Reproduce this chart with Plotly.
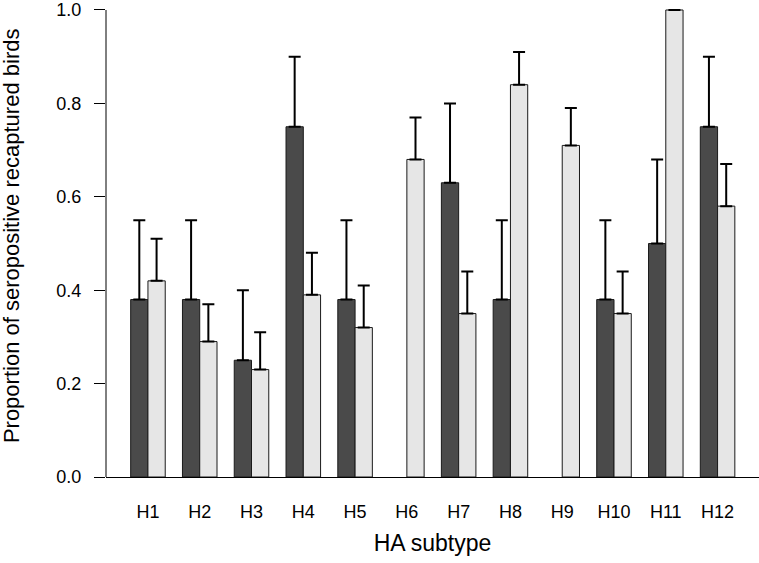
import plotly.graph_objects as go

subtypes = ["H1", "H2", "H3", "H4", "H5", "H6", "H7", "H8", "H9", "H10", "H11", "H12"]
dark_vals = [0.38, 0.38, 0.25, 0.75, 0.38, None, 0.63, 0.38, None, 0.38, 0.50, 0.75]
dark_upper = [0.55, 0.55, 0.40, 0.90, 0.55, None, 0.80, 0.55, None, 0.55, 0.68, 0.90]
light_vals = [0.42, 0.29, 0.23, 0.39, 0.32, 0.68, 0.35, 0.84, 0.71, 0.35, 1.00, 0.58]
light_upper = [0.51, 0.37, 0.31, 0.48, 0.41, 0.77, 0.44, 0.91, 0.79, 0.44, 1.00, 0.67]
y_ticks = [0, 0.2, 0.4, 0.6, 0.8, 1.0]


def err_up(vals, upper):
    return [None if v is None else u - v for v, u in zip(vals, upper)]


def zeros(vals):
    return [0 if v is not None else None for v in vals]


fig = go.Figure()
fig.add_trace(go.Bar(
    x=subtypes, y=dark_vals,
    marker=dict(color="#4a4a4a", line=dict(color="#1a1a1a", width=1)),
    error_y=dict(type="data", symmetric=False, array=err_up(dark_vals, dark_upper),
                 arrayminus=zeros(dark_vals), color="black", thickness=2, width=6),
    cliponaxis=False, showlegend=False,
))
fig.add_trace(go.Bar(
    x=subtypes, y=light_vals,
    marker=dict(color="#e6e6e6", line=dict(color="#1a1a1a", width=1)),
    error_y=dict(type="data", symmetric=False, array=err_up(light_vals, light_upper),
                 arrayminus=zeros(light_vals), color="black", thickness=2, width=6),
    cliponaxis=False, showlegend=False,
))

# y axis line only spans 0..1 like the R axis
fig.add_shape(type="line", xref="paper", yref="y", x0=0, x1=0, y0=0, y1=1.0,
              line=dict(color="black", width=1))

fig.add_annotation(
    text="Proportion of seropositive recaptured birds", textangle=-90,
    xref="paper", yref="paper", x=0, y=0.505, xshift=-95,
    xanchor="center", yanchor="middle", showarrow=False,
    font=dict(size=22),
)

font = "Liberation Sans, Arial, sans-serif"
fig.update_layout(
    width=759, height=563,
    margin=dict(l=106, r=0, t=0, b=86, autoexpand=False),
    paper_bgcolor="white", plot_bgcolor="white",
    barmode="group", bargap=0.333, bargroupgap=0,
    font=dict(family=font, color="black", size=18),
    xaxis=dict(
        range=[-0.81, 11.8], showgrid=False, zeroline=False,
        showline=True, linecolor="black", linewidth=1,
        ticks="", ticklabelstandoff=18, tickfont=dict(size=18),
        title=dict(text="HA subtype", font=dict(size=23), standoff=14),
    ),
    yaxis=dict(
        range=[0, 1.0214], showgrid=False, zeroline=False, showline=False,
        ticks="outside", ticklen=11, tickcolor="black", automargin=False,
        tickvals=y_ticks, ticktext=[f"{v:.1f}" for v in y_ticks],
        tickfont=dict(size=18), ticklabelstandoff=9, ticklabeloverflow="allow",
    ),
)

fig.write_html("out.html", config={"displayModeBar": False},
               post_script="document.body.style.margin='0';")
